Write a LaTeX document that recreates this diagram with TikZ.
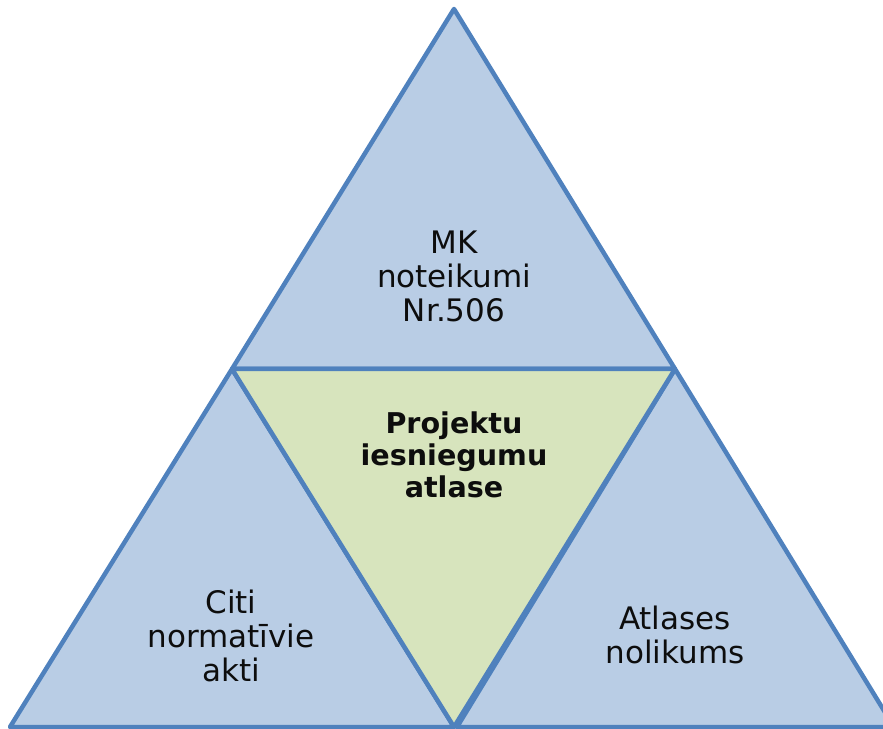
\documentclass[tikz,border=0pt]{standalone}
\usepackage{fontspec}
\setmainfont{DejaVu Sans}
\definecolor{triblue}{RGB}{185,205,229}
\definecolor{trigreen}{RGB}{215,228,189}
\definecolor{triedge}{RGB}{79,129,189}
\tikzset{
  blueface/.style={fill=triblue, draw=triedge, line width=4.5pt, line join=round},
  greenface/.style={fill=trigreen, draw=triedge, line width=4.5pt, line join=round},
  plainlabel/.style={align=center, inner sep=0pt, font=\fontsize{31}{34}\selectfont, text=black!95},
  boldlabel/.style={align=center, inner sep=0pt, font=\fontsize{28.6}{32}\selectfont\bfseries, text=black!95}
}
\begin{document}
\begin{tikzpicture}[x=1pt,y=1pt]
\useasboundingbox (0,0) rectangle (883,728);
\clip (0,0) rectangle (883,728);
\coordinate (A) at (454,719);
\coordinate (L) at (232,359);
\coordinate (R) at (675,359);
\coordinate (B) at (454,1);
\coordinate (BL) at (10,1);
\coordinate (BR) at (894,1);
\coordinate (BM) at (457,1);
\draw[blueface] (A) -- (L) -- (R) -- cycle;
\draw[blueface] (L) -- (BL) -- (B) -- cycle;
\draw[blueface] (R) -- (BM) -- (BR) -- cycle;
\draw[greenface] (L) -- (R) -- (B) -- cycle;
\node[plainlabel] (top) at (454,451.5) {MK\\noteikumi\\Nr.506};
\node[boldlabel] (mid) at (454,273) {Projektu\\iesniegumu\\atlase};
\node[plainlabel] (left) at (231,92) {Citi\\normatīvie\\akti};
\node[plainlabel] (right) at (675,93.5) {Atlases\\nolikums};
\end{tikzpicture}
\end{document}
